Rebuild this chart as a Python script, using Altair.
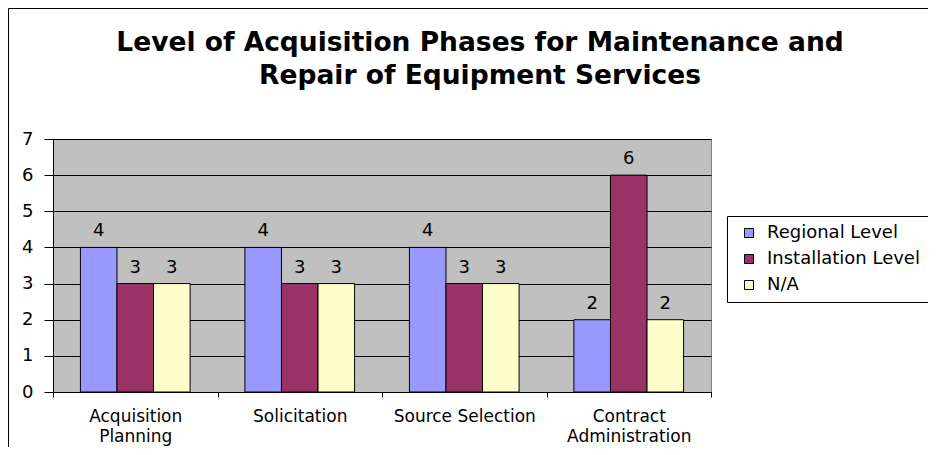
import altair as alt
import pandas as pd

categories = ["Acquisition Planning", "Solicitation", "Source Selection", "Contract Administration"]
category_lines = [["Acquisition", "Planning"], ["Solicitation"], ["Source Selection"], ["Contract", "Administration"]]
series = ["Regional Level", "Installation Level", "N/A"]
regional = [4, 4, 4, 2]
installation = [3, 3, 3, 6]
na_values = [3, 3, 3, 2]
colors = ["#9999FF", "#993366", "#FFFFCC"]
y_ticks = [0, 1, 2, 3, 4, 5, 6, 7]
title_lines = ["Level of Acquisition Phases for Maintenance and", "Repair of Equipment Services"]

rows = []
for i, c in enumerate(categories):
    for s, vals in zip(series, [regional, installation, na_values]):
        rows.append({"phase": c, "level": s, "count": vals[i]})
df = pd.DataFrame(rows)

parts = []
for c, lines in zip(categories, category_lines):
    arr = "[" + ", ".join("'" + l + "'" for l in lines) + "]"
    parts.append("datum.label == '" + c + "' ? " + arr + " : ")
label_expr = "".join(parts) + "datum.label"

FONT = "DejaVu Sans"

x = alt.X(
    "phase:N", sort=categories, title=None,
    scale=alt.Scale(paddingInner=0, paddingOuter=0),
    axis=alt.Axis(labelAngle=0, labelExpr=label_expr, tickBand="extent",
                  domainColor="black", tickColor="black", tickSize=5,
                  labelFont=FONT, labelFontSize=17, labelColor="black",
                  labelPadding=11, labelLineHeight=20, grid=False),
)
xoff = alt.XOffset("level:N", sort=series, scale=alt.Scale(paddingInner=0, paddingOuter=0.75))
y = alt.Y(
    "count:Q", title=None,
    scale=alt.Scale(domain=[0, 7], nice=False),
    axis=alt.Axis(values=y_ticks, grid=True, gridColor="black", gridWidth=1,
                  domainColor="black", tickColor="black", tickSize=9,
                  labelFont=FONT, labelFontSize=18, labelPadding=11, labelColor="black"),
)
color = alt.Color(
    "level:N", sort=series,
    scale=alt.Scale(domain=series, range=colors),
    legend=alt.Legend(title=None, orient="none", legendX=674, legendY=77,
                      strokeColor="black", fillColor="white", padding=8,
                      symbolType="square", symbolSize=81, symbolStrokeColor="black",
                      symbolStrokeWidth=1, symbolOffset=5, labelFont=FONT,
                      labelFontSize=18, labelColor="black", labelOffset=9,
                      rowPadding=8, cornerRadius=0),
)

base = alt.Chart(df)
bars = base.mark_bar(stroke="black", strokeWidth=1).encode(x=x, xOffset=xoff, y=y, color=color)
texts = base.mark_text(dy=-11, baseline="alphabetic", font=FONT, fontSize=18, color="black").encode(
    x=x, xOffset=xoff, y=y, text="count:Q")

frame = alt.Chart(pd.DataFrame({"frame": [0]})).mark_rect(
    fillOpacity=0, stroke="black", strokeWidth=1).encode(
    x=alt.value(-44.5), x2=alt.value(1000), y=alt.value(-130.5), y2=alt.value(1000))

chart = alt.layer(frame, bars, texts).properties(
    width=658, height=253,
    autosize=alt.AutoSizeParams(type="none"),
    padding={"left": 45, "top": 131, "right": 217, "bottom": 55},
    title=alt.TitleParams(text=title_lines, font=FONT, fontSize=26.5, fontWeight="bold",
                          color="black", anchor="middle", frame="group", dx=98,
                          offset=-81, lineHeight=33),
    background="white",
).configure_view(fill="#C0C0C0", stroke="#808080", strokeWidth=1)

chart.save("out.html", embed_options={"renderer": "svg", "actions": False})
